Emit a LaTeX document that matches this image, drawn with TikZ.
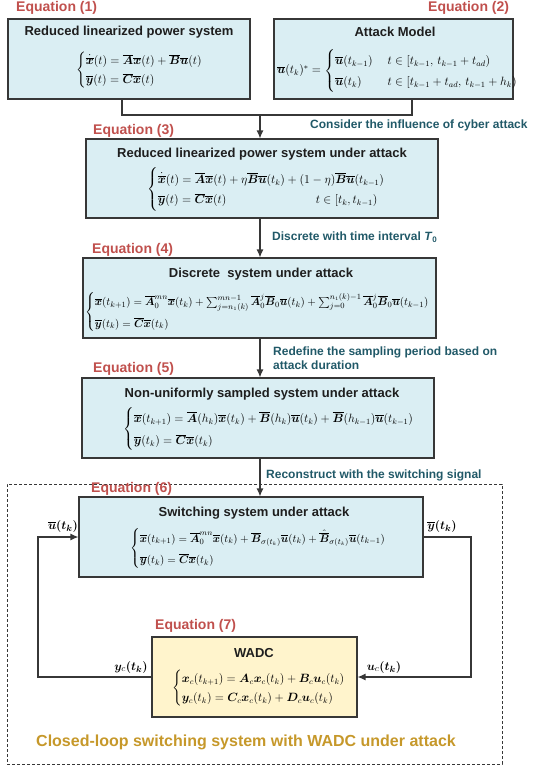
\documentclass[tikz,border=0pt]{standalone}
\usepackage{amsmath}
\usepackage{bm}
\usepackage{fontspec}
\setmainfont{Liberation Sans}
\usetikzlibrary{arrows.meta,calc}
\definecolor{boxblue}{RGB}{218,238,243}
\definecolor{boxyellow}{RGB}{255,244,204}
\definecolor{eqred}{RGB}{192,80,77}
\definecolor{tealc}{RGB}{33,89,104}
\definecolor{goldc}{RGB}{198,152,42}
\definecolor{linec}{RGB}{55,55,55}
\definecolor{titlec}{RGB}{30,30,30}
\newcommand{\vxb}{\overline{\bm{x}}}
\newcommand{\vAb}{\overline{\bm{A}}}
\newcommand{\vBb}{\overline{\bm{B}}}
\newcommand{\vub}{\overline{\bm{u}}}
\newcommand{\vyb}{\overline{\bm{y}}}
\newcommand{\vCb}{\overline{\bm{C}}}
\newcommand{\lbr}[2][1.4]{\renewcommand{\arraystretch}{#1}\left\{\begin{array}{@{}l@{}}#2\end{array}\right.}
\newcommand{\lbrtwo}[2][1.4]{\renewcommand{\arraystretch}{#1}\left\{\begin{array}{@{}l@{\hspace{1.3em}}l@{}}#2\end{array}\right.}
\tikzset{
 box/.style={draw=linec, line width=1.1pt, fill=boxblue, inner sep=0pt},
 ttl/.style={font=\fontsize{13}{15}\selectfont\bfseries, text=titlec, inner sep=0pt},
 eqlab/.style={font=\fontsize{14}{16}\selectfont\bfseries, text=eqred, anchor=west, inner sep=0pt},
 note/.style={font=\fontsize{12}{14}\selectfont\bfseries, text=tealc, anchor=west, inner sep=0pt, align=left},
 eqn/.style={font=\fontsize{12}{14}\selectfont, anchor=west, inner sep=0pt},
 sig/.style={font=\fontsize{13}{15}\selectfont, inner sep=0pt},
 conn/.style={draw=linec, line width=1.2pt},
 arr/.style={conn, -{Latex[length=8pt,width=7pt]}},
}
\begin{document}
\begin{tikzpicture}[x=1pt,y=-1pt]
\useasboundingbox (0,0) rectangle (537,765);
% dashed frame
\node[draw=linec, dashed, dash pattern=on 3pt off 2pt, line width=0.8pt, minimum width=495pt, minimum height=280pt, inner sep=0pt] (frame) at (254.5,624) {};
% boxes
\node[box, minimum width=242pt, minimum height=80pt] (b1) at (129,59) {};
\node[box, minimum width=239pt, minimum height=80pt] (b2) at (393.5,59) {};
\node[box, minimum width=352pt, minimum height=79pt] (b3) at (262,178.5) {};
\node[box, minimum width=353pt, minimum height=80pt] (b4) at (259.5,298) {};
\node[box, minimum width=352pt, minimum height=80pt] (b5) at (258,418) {};
\node[box, minimum width=344pt, minimum height=80pt] (b6) at (251,537) {};
\node[box, fill=boxyellow, minimum width=205pt, minimum height=80pt] (b7) at (254.5,677) {};
% equation labels
\node[eqlab] (l1) at (16,8) {Equation (1)};
\node[eqlab] (l2) at (428,8) {Equation (2)};
\node[eqlab] (l3) at (93,131) {Equation (3)};
\node[eqlab] (l4) at (92,250) {Equation (4)};
\node[eqlab] (l5) at (93,369) {Equation (5)};
\node[eqlab] (l6) at (91,489) {Equation (6)};
\node[eqlab] (l7) at (155,626) {Equation (7)};
% titles
\node[ttl] (t1) at (129,32) {Reduced linearized power system};
\node[ttl] (t2) at (395,32) {Attack Model};
\node[ttl] (t3) at (262,154) {Reduced linearized power system under attack};
\node[ttl] (t4) at (261,274) {Discrete\ \ system under attack};
\node[ttl] (t5) at (262,394) {Non-uniformly sampled system under attack};
\node[ttl] (t6) at (254,513) {Switching system under attack};
\node[ttl] (t7) at (254,653) {WADC};
% equations
\node[eqn] (e1) at (76,70.5) {$\lbr[1.35]{\dot{\vxb}(t)=\vAb\vxb(t)+\vBb\vub(t)\\ \vyb(t)=\vCb\vxb(t)}$};
\node[eqn, font=\fontsize{11.5}{14}\selectfont] (e2) at (277,71) {$\vub(t_k)^{*}=\lbrtwo[1.5]{\vub(t_{k-1}) & t\in[t_{k-1},\, t_{k-1}+t_{ad})\\ \vub(t_k) & t\in[t_{k-1}+t_{ad},\, t_{k-1}+h_k)}$};
\node[eqn] (e3) at (147,189.5) {$\lbr[1.45]{\dot{\vxb}(t)=\vAb\vxb(t)+\eta\vBb\vub(t_k)+(1-\eta)\vBb\vub(t_{k-1})\\ \makebox[158pt][l]{$\vyb(t)=\vCb\vxb(t)$}t\in[t_k,t_{k-1})}$};
\node[eqn, font=\fontsize{11}{13}\selectfont] (e4) at (85,312) {$\lbr[1.65]{\vxb(t_{k+1})=\vAb_0^{mn}\vxb(t_k)+\sum\nolimits_{j=n_1(k)}^{mn-1}\vAb_0^{j}\vBb_0\vub(t_k)+\sum\nolimits_{j=0}^{n_1(k)-1}\vAb_0^{j}\vBb_0\vub(t_{k-1})\\ \vyb(t_k)=\vCb\vxb(t_k)}$};
\node[eqn] (e5) at (123,429) {$\lbr[1.6]{\vxb(t_{k+1})=\vAb(h_k)\vxb(t_k)+\vBb(h_k)\vub(t_k)+\vBb(h_{k-1})\vub(t_{k-1})\\ \vyb(t_k)=\vCb\vxb(t_k)}$};
\node[eqn, font=\fontsize{11}{13}\selectfont] (e6) at (130,548.5) {$\lbr[1.65]{\vxb(t_{k+1})=\vAb_0^{mn}\vxb(t_k)+\vBb_{\sigma(t_k)}\vub(t_k)+\hat{\vBb}_{\sigma(t_k)}\vub(t_{k-1})\\ \vyb(t_k)=\vCb\vxb(t_k)}$};
\node[eqn] (e7) at (172,688) {$\lbr[1.35]{\bm{x}_c(t_{k+1})=\bm{A}_c\bm{x}_c(t_k)+\bm{B}_c\bm{u}_c(t_k)\\ \bm{y}_c(t_k)=\bm{C}_c\bm{x}_c(t_k)+\bm{D}_c\bm{u}_c(t_k)}$};
% notes
\node[note] (n1) at (310,125) {Consider the influence of cyber attack};
\node[note] (n2) at (272,237) {Discrete with time interval \textit{T}$_{\mathbf 0}$};
\node[note] (n3) at (273,358.5) {Redefine the sampling period based on\\attack duration};
\node[note] (n4) at (266,475) {Reconstruct with the switching signal};
% connectors
\coordinate (j1) at (122,115);
\coordinate (j2) at (412,115);
\coordinate (sp) at (260,115);
\coordinate (rx) at (471,0);
\coordinate (lx) at (38,0);
\draw[conn] (b1.south -| j1) -- (j1) -- (j2) -- (b2.south -| j2);
\draw[arr] (sp) -- (b3.north -| sp);
\draw[arr] (b3.south -| sp) -- (b4.north -| sp);
\draw[arr] (b4.south -| sp) -- (b5.north -| sp);
\draw[arr] (b5.south -| sp) -- (b6.north -| sp);
\draw[arr] (b6.east) -- (b6.east -| rx) |- (b7.east);
\draw[arr] (b7.west) -- (b7.west -| lx) |- (b6.west);
% signal labels
\node[sig] (s1) at (63,526) {$\vub\bm{(t_k)}$};
\node[sig] (s2) at (442,526) {$\vyb\bm{(t_k)}$};
\node[sig] (s3) at (131,667) {$\bm{y}_c\bm{(t_k)}$};
\node[sig] (s4) at (384,667) {$\bm{u}_c\bm{(t_k)}$};
% caption
\node[font=\fontsize{16}{18}\selectfont\bfseries, text=goldc, inner sep=0pt, anchor=west] (cap) at (36,742) {Closed-loop switching system with WADC under attack};
\end{tikzpicture}
\end{document}
